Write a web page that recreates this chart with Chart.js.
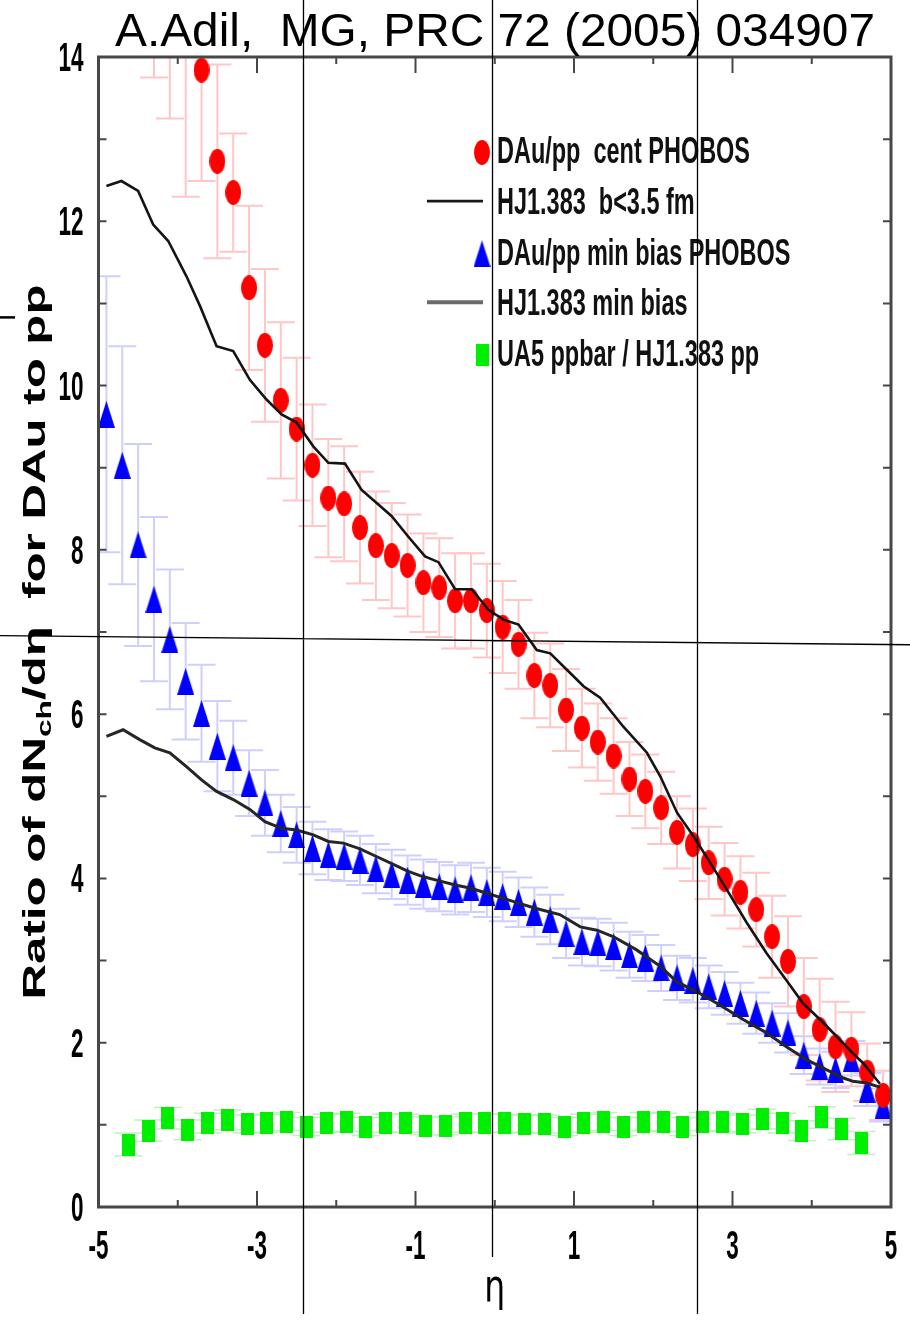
<!DOCTYPE html>
<html>
<head>
<meta charset="utf-8">
<title>dAu / pp ratio of dNch/deta</title>
<script src="https://cdn.jsdelivr.net/npm/chart.js@4.4.1/dist/chart.umd.min.js"></script>
<style>
  html, body { margin: 0; padding: 0; background: #fff; }
  #plot { display: block; }
</style>
</head>
<body>
<canvas id="plot" width="910" height="1324"></canvas>
<script>
// PHOBOS central dAu / pp
const centEta = [-4.3, -4.1, -3.9, -3.7, -3.5, -3.3, -3.1, -2.9, -2.7, -2.5, -2.3, -2.1, -1.9, -1.7, -1.5, -1.3,
    -1.1, -0.9, -0.7, -0.5, -0.3, -0.1, 0.1, 0.3, 0.5, 0.7, 0.9, 1.1, 1.3, 1.5, 1.7, 1.9, 2.1, 2.3, 2.5, 2.7,
    2.9, 3.1, 3.3, 3.5, 3.7, 3.9, 4.1, 4.3, 4.5, 4.7, 4.9];
const centRatio = [15.6, 15.0, 14.4, 13.84, 12.73, 12.35, 11.19, 10.49, 9.82, 9.47, 9.03, 8.63, 8.56, 8.27, 8.05, 7.93,
    7.81, 7.60, 7.54, 7.38, 7.38, 7.26, 7.06, 6.85, 6.47, 6.35, 6.05, 5.83, 5.66, 5.49, 5.21, 5.06, 4.86, 4.56, 4.41, 4.19,
    3.99, 3.83, 3.62, 3.29, 2.99, 2.44, 2.16, 1.95, 1.92, 1.64, 1.36];
const centErr = [1.85, 1.75, 2.1, 1.35, 1.18, 0.72, 1.0, 0.93, 0.95, 0.87, 0.74, 0.72, 0.70, 0.68, 0.66, 0.64,
    0.62, 0.60, 0.60, 0.58, 0.58, 0.57, 0.56, 0.54, 0.52, 0.51, 0.50, 0.48, 0.47, 0.46, 0.45, 0.45, 0.44, 0.44, 0.44, 0.44,
    0.44, 0.44, 0.45, 0.50, 0.55, 0.59, 0.62, 0.55, 0.45, 0.35, 0.30];

// PHOBOS minimum bias dAu / pp
const mbEta = [-4.9, -4.7, -4.5, -4.3, -4.1, -3.9, -3.7, -3.5, -3.3, -3.1, -2.9, -2.7, -2.5, -2.3, -2.1, -1.9, -1.7,
    -1.5, -1.3, -1.1, -0.9, -0.7, -0.5, -0.3, -0.1, 0.1, 0.3, 0.5, 0.7, 0.9, 1.1, 1.3, 1.5, 1.7, 1.9, 2.1, 2.3, 2.5,
    2.7, 2.9, 3.1, 3.3, 3.5, 3.7, 3.9, 4.1, 4.3, 4.5, 4.7, 4.9];
const mbRatio = [9.65, 9.03, 8.06, 7.40, 6.91, 6.40, 6.01, 5.61, 5.47, 5.16, 4.92, 4.67, 4.53, 4.37, 4.29, 4.27, 4.22,
    4.12, 4.05, 3.98, 3.93, 3.90, 3.86, 3.89, 3.83, 3.78, 3.71, 3.59, 3.50, 3.33, 3.23, 3.22, 3.17, 3.07, 3.03, 2.91, 2.79, 2.76,
    2.68, 2.60, 2.48, 2.36, 2.24, 2.12, 1.85, 1.71, 1.67, 1.81, 1.43, 1.24];
const mbErr = [1.68, 1.45, 1.23, 1.00, 0.85, 0.71, 0.59, 0.55, 0.45, 0.40, 0.40, 0.35, 0.34, 0.32, 0.31, 0.30, 0.30,
    0.30, 0.30, 0.30, 0.30, 0.30, 0.30, 0.30, 0.30, 0.30, 0.30, 0.30, 0.30, 0.30, 0.29, 0.29, 0.29, 0.28, 0.28, 0.28, 0.27, 0.27,
    0.26, 0.26, 0.25, 0.25, 0.24, 0.24, 0.23, 0.22, 0.22, 0.21, 0.20, 0.20];

// HIJING 1.383, b < 3.5 fm
const hjCentEta = [-4.90, -4.71, -4.50, -4.31, -4.12, -3.89, -3.72, -3.51, -3.30, -3.09, -2.88, -2.69, -2.50, -2.29, -2.10,
    -1.89, -1.68, -1.49, -1.30, -1.09, -0.88, -0.71, -0.50, -0.29, -0.08, 0.11, 0.30, 0.53, 0.70, 0.91, 1.12, 1.33, 1.62,
    1.92, 2.09, 2.30, 2.51, 2.72, 2.93, 3.18, 3.43, 3.68, 3.89, 4.15, 4.36, 4.52, 4.65, 4.86];
const hjCentRatio = [12.43, 12.49, 12.37, 11.96, 11.76, 11.33, 10.97, 10.48, 10.42, 10.07, 9.83, 9.65, 9.55, 9.26, 9.06,
    9.05, 8.73, 8.57, 8.41, 8.16, 7.92, 7.85, 7.52, 7.52, 7.27, 7.15, 7.09, 6.78, 6.74, 6.54, 6.34, 6.20, 5.85,
    5.53, 5.24, 4.80, 4.51, 4.19, 3.86, 3.46, 3.09, 2.76, 2.48, 2.24, 2.03, 1.87, 1.75, 1.50];

// HIJING 1.383, minimum bias
const hjMbEta = [-4.90, -4.69, -4.48, -4.29, -4.10, -3.89, -3.70, -3.51, -3.30, -3.09, -2.90, -2.69, -2.50, -2.29, -2.10,
    -1.91, -1.70, -1.50, -1.30, -1.10, -0.90, -0.70, -0.50, -0.30, -0.10, 0.10, 0.30, 0.50, 0.82, 1.08, 1.29, 1.50, 1.79,
    2.09, 2.30, 2.55, 2.84, 3.14, 3.43, 3.68, 3.94, 4.19, 4.40, 4.52, 4.69, 4.86];
const hjMbRatio = [5.73, 5.81, 5.69, 5.59, 5.53, 5.36, 5.20, 5.06, 4.96, 4.84, 4.69, 4.61, 4.59, 4.53, 4.45,
    4.43, 4.36, 4.27, 4.18, 4.09, 4.02, 3.97, 3.92, 3.88, 3.82, 3.76, 3.70, 3.64, 3.56, 3.41, 3.37, 3.29, 3.13,
    2.93, 2.74, 2.62, 2.46, 2.28, 2.12, 1.95, 1.79, 1.67, 1.57, 1.53, 1.51, 1.46];

// UA5 ppbar / HIJING pp
const ua5Eta = [-4.625, -4.375, -4.125, -3.875, -3.625, -3.375, -3.125, -2.875, -2.625, -2.375, -2.125, -1.875, -1.625,
    -1.375, -1.125, -0.875, -0.625, -0.375, -0.125, 0.125, 0.375, 0.625, 0.875, 1.125, 1.375, 1.625, 1.875, 2.125,
    2.375, 2.625, 2.875, 3.125, 3.375, 3.625, 3.875, 4.125, 4.375, 4.625];
const ua5Ratio = [0.76, 0.93, 1.08, 0.94, 1.02, 1.06, 1.01, 1.02, 1.04, 0.98, 1.02, 1.03, 0.98,
    1.02, 1.02, 0.99, 0.99, 1.02, 1.02, 1.02, 1.01, 1.01, 0.98, 1.02, 1.04, 0.98, 1.04, 1.03,
    0.98, 1.04, 1.03, 1.01, 1.07, 1.02, 0.93, 1.09, 0.95, 0.78];
const ua5Err = [0.14, 0.13, 0.13, 0.12, 0.12, 0.12, 0.11, 0.11, 0.11, 0.11, 0.11, 0.11, 0.11,
    0.11, 0.11, 0.11, 0.11, 0.11, 0.11, 0.11, 0.11, 0.11, 0.11, 0.11, 0.11, 0.11, 0.11, 0.11,
    0.11, 0.11, 0.11, 0.11, 0.12, 0.12, 0.12, 0.13, 0.13, 0.14];

// axis ticks
const xTickValues = [-5, -4, -3, -2, -1, 0, 1, 2, 3, 4, 5];
const xTickLabels = ['-5', '', '-3', '', '-1', '', '1', '', '3', '', '5'];
const yTickValues = [0, 1, 2, 3, 4, 5, 6, 7, 8, 9, 10, 11, 12, 13, 14];
const yTickLabels = ['0', '', '2', '', '4', '', '6', '', '8', '', '10', '', '12', '', '14'];

const titleText = 'A.Adil,  MG, PRC 72 (2005) 034907';

const NARROW = 'bold 40px "Liberation Sans Narrow", "Liberation Sans", Arial, sans-serif';

function toPoints(xs, ys) {
    return xs.map((x, i) => ({ x: x, y: ys[i] }));
}

// markers are drawn a bit taller than wide
function marker(shape, w, h, color) {
    const c = document.createElement('canvas');
    c.width = w;
    c.height = h;
    const g = c.getContext('2d');
    g.fillStyle = color;
    g.beginPath();
    if (shape === 'ellipse') {
        g.ellipse(w / 2, h / 2, w / 2, h / 2, 0, 0, Math.PI * 2);
    } else if (shape === 'triangle') {
        g.moveTo(w / 2, 0);
        g.lineTo(w, h);
        g.lineTo(0, h);
        g.closePath();
    } else {
        g.rect(0, 0, w, h);
    }
    g.fill();
    return c;
}

const redDot = marker('ellipse', 16, 25, '#ff0000');
const blueTri = marker('triangle', 17, 27, '#0000ff');
const greenBox = marker('rect', 13, 22, '#00ee00');

function squeezed(ctx, text, x, y, sx, align) {
    ctx.save();
    ctx.translate(x, y);
    ctx.scale(sx, 1);
    ctx.textAlign = align;
    ctx.fillText(text, 0, 0);
    ctx.restore();
}

// vertical error bars with caps, behind the markers
const errorBars = {
    id: 'errorBars',
    beforeDatasetsDraw(chart) {
        const { ctx, chartArea: a, scales: { x, y } } = chart;
        ctx.save();
        ctx.beginPath();
        ctx.rect(a.left, a.top, a.width, a.height);
        ctx.clip();
        chart.data.datasets.forEach(ds => {
            if (!ds.errors) return;
            ctx.strokeStyle = ds.errorColor;
            ctx.lineWidth = ds.errorWidth;
            ds.data.forEach((p, i) => {
                const px = x.getPixelForValue(p.x);
                const top = y.getPixelForValue(p.y + ds.errors[i]);
                const bot = y.getPixelForValue(p.y - ds.errors[i]);
                ctx.beginPath();
                ctx.moveTo(px, top);
                ctx.lineTo(px, bot);
                ctx.moveTo(px - 14, top);
                ctx.lineTo(px + 14, top);
                ctx.moveTo(px - 14, bot);
                ctx.lineTo(px + 14, bot);
                ctx.stroke();
            });
        });
        ctx.restore();
    }
};

// box frame, inward ticks, tick labels, axis titles and the key
const frame = {
    id: 'frame',
    afterDatasetsDraw(chart) {
        const { ctx, chartArea: a, scales: { x, y } } = chart;
        ctx.save();
        ctx.strokeStyle = '#474747';
        ctx.lineWidth = 2;
        ctx.beginPath();
        xTickValues.forEach((v, i) => {
            const px = x.getPixelForValue(v);
            const len = xTickLabels[i] ? 16 : 7;
            ctx.moveTo(px, a.bottom);
            ctx.lineTo(px, a.bottom - len);
            ctx.moveTo(px, a.top);
            ctx.lineTo(px, a.top + len);
        });
        yTickValues.forEach(v => {
            const py = y.getPixelForValue(v);
            ctx.moveTo(a.left, py);
            ctx.lineTo(a.left + 8, py);
            ctx.moveTo(a.right, py);
            ctx.lineTo(a.right - 8, py);
        });
        ctx.stroke();
        ctx.lineWidth = 3;
        ctx.strokeRect(a.left, a.top, a.width, a.height);

        // tick labels
        ctx.fillStyle = '#000';
        ctx.font = NARROW;
        ctx.textBaseline = 'middle';
        const sx = 25 / ctx.measureText('14').width;
        xTickValues.forEach((v, i) => {
            if (xTickLabels[i]) squeezed(ctx, xTickLabels[i], x.getPixelForValue(v), a.bottom + 41, sx, 'center');
        });
        yTickValues.forEach((v, i) => {
            if (yTickLabels[i]) squeezed(ctx, yTickLabels[i], a.left - 15, y.getPixelForValue(v) + 3, sx, 'right');
        });

        // x title
        ctx.font = '44px "DejaVu Sans", sans-serif';
        ctx.textBaseline = 'alphabetic';
        squeezed(ctx, 'η', (a.left + a.right) / 2, a.bottom + 94, 0.75, 'center');

        // y title with subscript, rotated
        const big = 'bold 31px "Liberation Sans", Arial, sans-serif';
        const small = 'bold 20px "Liberation Sans", Arial, sans-serif';
        const p1 = 'Ratio of dN', p2 = 'ch', p3 = '/dη  for DAu to pp';
        ctx.font = big;
        const w1 = ctx.measureText(p1).width, w3 = ctx.measureText(p3).width;
        ctx.font = small;
        const w2 = ctx.measureText(p2).width;
        const total = w1 + w2 + w3;
        ctx.save();
        ctx.translate(45, 642);
        ctx.rotate(-Math.PI / 2);
        ctx.scale(715 / total, 1);
        ctx.textAlign = 'left';
        let cx = -total / 2;
        ctx.font = big;
        ctx.fillText(p1, cx, 0);
        cx += w1;
        ctx.font = small;
        ctx.fillText(p2, cx, 6);
        cx += w2;
        ctx.font = big;
        ctx.fillText(p3, cx, 0);
        ctx.restore();

        // key
        ctx.font = 'bold 36px "Liberation Sans Narrow", "Liberation Sans", Arial, sans-serif';
        ctx.textBaseline = 'middle';
        const kx = 253 / ctx.measureText('DAu/pp  cent PHOBOS').width;
        chart.data.datasets.forEach((ds, i) => {
            const ky = 152.5 + i * 50.6;
            if (ds.showLine === false) {
                const img = ds.pointStyle;
                ctx.drawImage(img, 482 - img.width / 2, ky - img.height / 2);
            } else {
                ctx.strokeStyle = ds.keyColor;
                ctx.lineWidth = ds.keyWidth;
                ctx.beginPath();
                ctx.moveTo(427, ky - 2);
                ctx.lineTo(483, ky - 2);
                ctx.stroke();
            }
            ctx.fillStyle = '#111';
            squeezed(ctx, ds.label, 497, ky + 1, kx, 'left');
        });
        ctx.restore();
    },
    afterDraw(chart) {
        const { ctx, scales: { x, y } } = chart;
        ctx.save();
        ctx.fillStyle = '#000';
        ctx.font = '46px "Liberation Sans", Arial, sans-serif';
        ctx.textBaseline = 'alphabetic';
        squeezed(ctx, titleText, 495, 46, 760 / ctx.measureText(titleText).width, 'center');

        // thin guide lines across the figure
        ctx.strokeStyle = '#000';
        ctx.lineWidth = 1.3;
        ctx.beginPath();
        [[-2.42, 1314], [-0.035, 1257], [2.55, 1314]].forEach(([eta, end]) => {
            const px = Math.round(x.getPixelForValue(eta)) + 0.5;
            ctx.moveTo(px, 0);
            ctx.lineTo(px, end);
        });
        ctx.moveTo(0, y.getPixelForValue(6.955));
        ctx.lineTo(910, y.getPixelForValue(6.845));
        ctx.stroke();
        ctx.lineWidth = 2.5;
        ctx.beginPath();
        ctx.moveTo(0, y.getPixelForValue(10.83));
        ctx.lineTo(15, y.getPixelForValue(10.83));
        ctx.stroke();
        ctx.restore();
    }
};

const plotCtx = document.getElementById('plot').getContext('2d');
const ratioChart = new Chart(plotCtx, {
    type: 'line',
    data: {
        datasets: [{
            label: 'DAu/pp  cent PHOBOS',
            data: toPoints(centEta, centRatio),
            errors: centErr,
            errorColor: '#ffc6c6',
            errorWidth: 2,
            showLine: false,
            pointStyle: redDot,
            clip: 0,
            order: 1
        }, {
            label: 'HJ1.383  b<3.5 fm',
            data: toPoints(hjCentEta, hjCentRatio),
            borderColor: '#141414',
            borderWidth: 2.6,
            keyColor: '#1a1a1a',
            keyWidth: 2.8,
            pointRadius: 0,
            tension: 0,
            order: 0
        }, {
            label: 'DAu/pp min bias PHOBOS',
            data: toPoints(mbEta, mbRatio),
            errors: mbErr,
            errorColor: '#cfcfff',
            errorWidth: 2,
            showLine: false,
            pointStyle: blueTri,
            clip: 0,
            order: 1
        }, {
            label: 'HJ1.383 min bias',
            data: toPoints(hjMbEta, hjMbRatio),
            borderColor: '#262626',
            borderWidth: 3,
            keyColor: '#6a6a6a',
            keyWidth: 4,
            pointRadius: 0,
            tension: 0,
            order: 0
        }, {
            label: 'UA5 ppbar / HJ1.383 pp',
            data: toPoints(ua5Eta, ua5Ratio),
            errors: ua5Err,
            errorColor: '#bff2bf',
            errorWidth: 1.5,
            showLine: false,
            pointStyle: greenBox,
            clip: 0,
            order: 2
        }]
    },
    options: {
        responsive: false,
        animation: false,
        events: [],
        layout: { padding: { left: 98.5, right: 19, top: 57, bottom: 117 } },
        scales: {
            x: { type: 'linear', min: -5, max: 5, display: false },
            y: { type: 'linear', min: 0, max: 14, display: false }
        },
        plugins: {
            legend: { display: false },
            tooltip: { enabled: false }
        }
    },
    plugins: [errorBars, frame]
});
</script>
</body>
</html>
